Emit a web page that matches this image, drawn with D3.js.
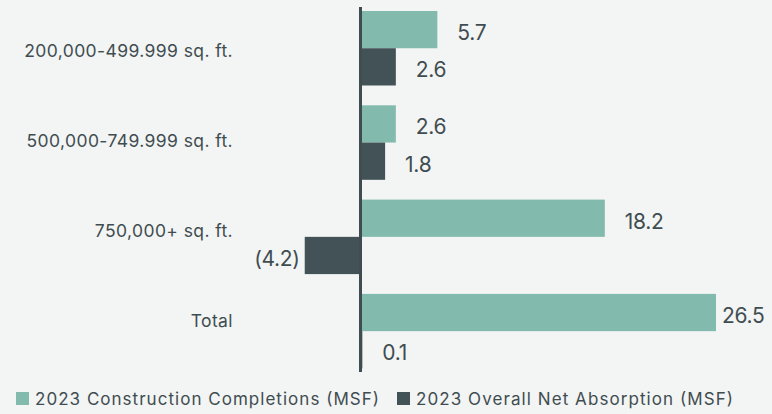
<!DOCTYPE html>
<html><head><meta charset="utf-8">
<script src="https://cdn.jsdelivr.net/npm/d3@7"></script>
<style>body{margin:0;background:#f3f4f4;}svg{display:block;}</style>
</head><body><svg id="c" width="772" height="414"></svg>
<script>
const categories = ["200,000-499.999 sq. ft.", "500,000-749.999 sq. ft.", "750,000+ sq. ft.", "Total"];
const seriesNames = ["2023 Construction Completions (MSF)", "2023 Overall Net Absorption (MSF)"];
const completions = [5.7, 2.6, 18.2, 26.5];
const absorption = [2.6, 1.8, -4.2, 0.1];
const colors = ["#82bbad", "#425256"];

const svg = d3.select("#c");
const textColor = "#3f4d50";
const font = "Inter, 'Noto Sans', sans-serif";

const x = d3.scaleLinear().domain([0, 26.5]).range([361, 716]);
const y = d3.scaleBand().domain(categories).range([11, 368.4]).paddingInner(0.21).paddingOuter(0);
const yLab = d3.scaleBand().domain(categories).range([6, 366]);
const inner = d3.scaleBand().domain([0, 1]).range([0, y.bandwidth()]);

const fmt = v => v < 0 ? "(" + Math.abs(v).toFixed(1) + ")" : v.toFixed(1);

const data = [];
categories.forEach((c, i) => {
  data.push({c, s: 0, v: completions[i]});
  data.push({c, s: 1, v: absorption[i]});
});

svg.selectAll("rect.bar").data(data).join("rect").attr("class", "bar")
  .attr("x", d => Math.min(x(0), x(d.v)))
  .attr("width", d => Math.abs(x(d.v) - x(0)))
  .attr("y", d => y(d.c) + inner(d.s))
  .attr("height", inner.bandwidth())
  .attr("fill", d => colors[d.s]);

// zero axis line
svg.append("line").attr("x1", x(0) - 0.5).attr("x2", x(0) - 0.5).attr("y1", 7).attr("y2", 372)
  .attr("stroke", "#3f4d50").attr("stroke-width", 3);

// value labels
svg.selectAll("text.val").data(data).join("text").attr("class", "val")
  .attr("x", d => d.v < 0 ? x(d.v) - 5 : (d.v > 25 ? x(d.v) + 6 : x(d.v) + 20))
  .attr("y", d => y(d.c) + inner(d.s) + inner.bandwidth() / 2 + 3)
  .attr("dy", "0.35em")
  .attr("text-anchor", d => d.v < 0 ? "end" : "start")
  .attr("font-family", font).attr("font-size", 21).attr("letter-spacing", -0.3).attr("fill", textColor)
  .text(d => fmt(d.v));

// category labels
svg.selectAll("text.cat").data(categories).join("text").attr("class", "cat")
  .attr("x", 233).attr("y", d => yLab(d) + yLab.bandwidth() / 2)
  .attr("dy", "0.35em").attr("text-anchor", "end")
  .attr("font-family", font).attr("font-size", 17.5).attr("letter-spacing", 0.4).attr("fill", textColor)
  .text(d => d);

// legend
const legX = [16, 397];
const legW = [344, 317];
const lg = svg.selectAll("g.leg").data(seriesNames).join("g").attr("class", "leg")
  .attr("transform", (d, i) => `translate(${legX[i]},398.5)`);
lg.append("rect").attr("x", 0).attr("y", -6.5).attr("width", 13).attr("height", 13)
  .attr("fill", (d, i) => colors[i]);
lg.append("text").attr("x", 19).attr("y", 0).attr("dy", "0.36em")
  .attr("font-family", font).attr("font-size", 17).attr("fill", textColor)
  .attr("textLength", (d, i) => legW[i]).attr("lengthAdjust", "spacing")
  .text(d => d);
</script></body></html>
